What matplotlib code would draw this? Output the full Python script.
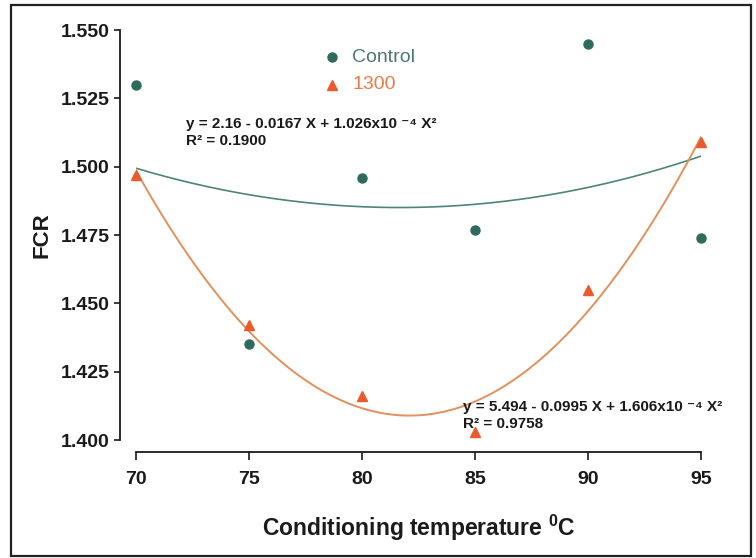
import numpy as np
import matplotlib
matplotlib.use("Agg")
import matplotlib.pyplot as plt
from matplotlib.patches import Rectangle

plt.rcParams['font.family'] = ['Liberation Sans', 'DejaVu Sans']
plt.rcParams['mathtext.fontset'] = 'custom'
plt.rcParams['mathtext.rm'] = 'Liberation Sans'
plt.rcParams['mathtext.bf'] = 'Liberation Sans:bold'

temps = [70, 75, 80, 85, 90, 95]
control = [1.530, 1.435, 1.496, 1.477, 1.545, 1.474]
t1300 = [1.497, 1.442, 1.416, 1.403, 1.455, 1.509]
xticks = [70, 75, 80, 85, 90, 95]
yticks = [1.400, 1.425, 1.450, 1.475, 1.500, 1.525, 1.550]

c_ctrl = '#2f6b5c'
c_ctrl_line = '#4f8478'
c_1300 = '#ea5a2c'
c_1300_line = '#e2905c'

W, H = 756, 558
fig = plt.figure(figsize=(W / 100, H / 100), dpi=100)

# outer frame
fig.patches.append(Rectangle((11 / W, 1 - 556 / H), (751 - 11) / W, (556 - 5) / H,
                             transform=fig.transFigure, fill=False,
                             edgecolor='#222222', linewidth=1.6))

left, right = 136 / W, 701 / W
top, bottom = 1 - 30 / H, 1 - 440 / H
ax = fig.add_axes([left, bottom, right - left, top - bottom])
ax.set_xlim(70, 95)
ax.set_ylim(1.400, 1.550)

# fitted quadratics
xs = np.linspace(70, 95, 200)
pc = np.polyfit(temps, control, 2)
p13 = np.polyfit(temps, t1300, 2)
ax.plot(xs, np.polyval(pc, xs), color=c_ctrl_line, lw=1.2, zorder=2)
ax.plot(xs, np.polyval(p13, xs), color=c_1300_line, lw=1.4, zorder=2)

ax.plot(temps, control, 'o', color=c_ctrl, ms=6.5, zorder=3, clip_on=False)
ax.plot(temps, t1300, '^', color=c_1300, ms=7, zorder=3, clip_on=False)

# spines
for s in ['top', 'right']:
    ax.spines[s].set_visible(False)
ax.spines['left'].set_position(('outward', 11.5))
ax.spines['bottom'].set_position(('outward', 8.6))
ax.spines['left'].set_bounds(1.400, 1.550)
ax.spines['bottom'].set_bounds(70, 95)
for s in ['left', 'bottom']:
    ax.spines[s].set_linewidth(1.3)
    ax.spines[s].set_color('#1a1a1a')

ax.set_xticks(xticks)
ax.set_xticklabels([str(v) for v in xticks])
ax.set_yticks(yticks)
ax.set_yticklabels([f'{v:.3f}' for v in yticks])
ax.tick_params(axis='y', direction='out', length=4.5, width=1.2, pad=3,
               labelsize=14, colors='#1a1a1a')
ax.tick_params(axis='x', direction='out', length=6, width=1.2, pad=8,
               labelsize=14, colors='#1a1a1a')
for lab in ax.get_xticklabels() + ax.get_yticklabels():
    lab.set_fontweight('bold')

ax.set_facecolor('none')

fig.text(42 / W, 1 - 235 / H, 'FCR', rotation=90, ha='center', va='center',
         fontsize=16, fontweight='bold', color='#1a1a1a')
fig.text(419 / W, 1 - 528 / H, 'Conditioning temperature $^{\\mathbf{0}}$C',
         ha='center', va='center', fontsize=16.5, fontweight='bold', color='#1a1a1a')

# legend
fig.lines.append(plt.Line2D([332 / W], [1 - 57 / H], marker='o', color=c_ctrl,
                            ms=6.5, transform=fig.transFigure, linestyle='none'))
fig.lines.append(plt.Line2D([332 / W], [1 - 85 / H], marker='^', color=c_1300,
                            ms=7, transform=fig.transFigure, linestyle='none'))
fig.text(352 / W, 1 - 57 / H, 'Control', ha='left', va='center', fontsize=14,
         color='#4c7a70')
fig.text(352 / W, 1 - 85 / H, '1300', ha='left', va='center', fontsize=14,
         color='#ee7a48')

# equations
eq_kw = dict(ha='left', va='center', fontsize=11, fontweight='bold', color='#1a1a1a',
             family=['Liberation Sans', 'DejaVu Sans'])
fig.text(186 / W, 1 - 124 / H,
         'y = 2.16 - 0.0167 X + 1.026x10 \u207b\u2074 X\u00b2', **eq_kw)
fig.text(186 / W, 1 - 141 / H, 'R\u00b2 = 0.1900', **eq_kw)
fig.text(463 / W, 1 - 407 / H,
         'y = 5.494 - 0.0995 X + 1.606x10 \u207b\u2074 X\u00b2', **eq_kw)
fig.text(463 / W, 1 - 424 / H, 'R\u00b2 = 0.9758', **eq_kw)

fig.savefig('out.png', dpi=100)
